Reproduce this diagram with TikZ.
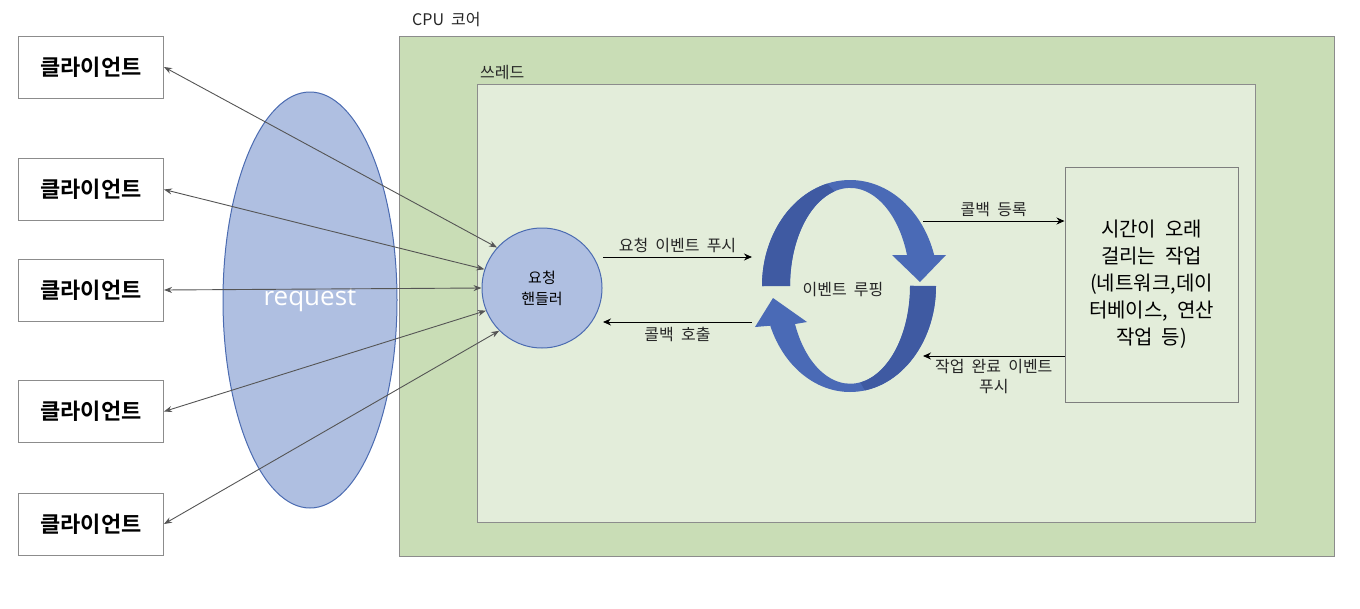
\documentclass[tikz,border=0pt]{standalone}
\usepackage{fontspec}
\setmainfont{Noto Sans CJK KR}[BoldFont={Noto Sans CJK KR Bold}, WordSpace=2]
\newfontfamily\reqfont{Open Sans}
\usetikzlibrary{arrows.meta,shapes.geometric,calc}
\definecolor{cpugreen}{HTML}{C9DDB6}
\definecolor{thrgreen}{HTML}{E3EDDA}
\definecolor{boxgray}{HTML}{8C8C8C}
\definecolor{reqfill}{HTML}{AFBFE1}
\definecolor{reqedge}{HTML}{4B6BB1}
\definecolor{loopblue}{HTML}{4A6AB6}
\definecolor{loopdark}{HTML}{3F5AA2}
\definecolor{conngray}{HTML}{555555}
\begin{document}
\begin{tikzpicture}[x=1pt,y=-1pt,
  client/.style={draw=boxgray, fill=white, line width=1pt, minimum width=145pt, minimum height=62pt, inner sep=0pt, font=\fontsize{22}{26}\selectfont\bfseries},
  panel/.style={draw=boxgray, line width=1pt, inner sep=0pt},
  lbl/.style={font=\fontsize{16}{20}\selectfont, text=black!85},
  carrow/.style={draw=conngray, line width=0.9pt, {Stealth[length=8pt,width=6pt]}-{Stealth[length=8pt,width=6pt]}},
  barrow/.style={draw=black, line width=1pt, -{Stealth[length=8pt,width=7pt]}}
]
\useasboundingbox (0,0) rectangle (1360,608);

% CPU core and thread panels
\node[panel, fill=cpugreen, minimum width=935pt, minimum height=520pt] (cpu) at (866.5,296) {};
\node[lbl, anchor=west, inner sep=0pt] (cpulbl) at (412,20) {CPU 코어};
\node[panel, fill=thrgreen, minimum width=778pt, minimum height=438pt] (thread) at (866,303) {};
\node[lbl, anchor=west, inner sep=0pt] (thrlbl) at (480,73) {쓰레드};

% request ellipse
\node[ellipse, draw=reqedge, line width=1pt, fill=reqfill, minimum width=174pt, minimum height=416pt, inner sep=0pt,
      text=white, font=\reqfont\fontsize{26}{30}\selectfont] (req) at (310,300) {request};

% clients
\node[client] (c1) at (91,67) {클라이언트};
\node[client] (c2) at (91,189.5) {클라이언트};
\node[client] (c3) at (91,290) {클라이언트};
\node[client] (c4) at (91,411.5) {클라이언트};
\node[client] (c5) at (91,524) {클라이언트};

% request handler
\node[circle, draw=reqedge, line width=1pt, fill=reqfill, minimum size=120pt, inner sep=0pt, align=center,
      font=\fontsize{15}{21}\selectfont] (h) at (542,288) {요청\\핸들러};

% client connectors
\draw[carrow] (c1.east) -- (h.138);
\draw[carrow] (c2.east) -- (h.162);
\draw[carrow] (c3.east) -- (h.180);
\draw[carrow] (c4.east) -- (h.202);
\draw[carrow] (c5.east) -- (h.225);

% long task box
\node[panel, draw=boxgray!90!black, fill=thrgreen, minimum width=173pt, minimum height=235pt, align=center,
      font=\fontsize{20}{27}\selectfont] (task) at (1151.5,284.5)
      {시간이 오래\\걸리는 작업\\(네트워크,데이\\터베이스, 연산\\작업 등)};

% event loop circular arrows
\fill[loopblue] (762,286) arc[start angle=180, end angle=343, x radius=88, y radius=106]
   -- (946,255) -- (920,282) -- (892,255) -- (907,255)
   arc[start angle=341.6, end angle=180, x radius=60, y radius=98] -- cycle;
\fill[loopdark] (762,286) arc[start angle=180, end angle=255, x radius=88, y radius=106]
   -- ($(850,286)+(255:60 and 98)$)
   arc[start angle=255, end angle=180, x radius=60, y radius=98] -- cycle;
\fill[loopblue] (936,286) arc[start angle=0, end angle=158, x radius=86, y radius=106]
   -- (755,327) -- (773,298) -- (807,322) -- (795,324)
   arc[start angle=157, end angle=0, x radius=60, y radius=98] -- cycle;
\fill[loopdark] (936,286) arc[start angle=0, end angle=80, x radius=86, y radius=106]
   -- ($(850,286)+(80:60 and 98)$)
   arc[start angle=80, end angle=0, x radius=60, y radius=98] -- cycle;
\node[lbl] (loop) at (843,290) {이벤트 루핑};

% inner connectors
\coordinate (p1s) at (603,257);
\coordinate (p1e) at (752,257);
\draw[barrow] (p1s) -- node[lbl, above, inner sep=4pt] (p1l) {요청 이벤트 푸시} (p1e);
\coordinate (p2s) at (752,322);
\coordinate (p2e) at (603,322);
\draw[barrow] (p2s) -- node[lbl, below, inner sep=5pt] (p2l) {콜백 호출} (p2e);
\coordinate (p3s) at (923,221);
\draw[barrow] (p3s) -- node[lbl, above, inner sep=4pt] (p3l) {콜백 등록} (p3s -| task.west);
\coordinate (p4e) at (923,356);
\draw[barrow] (p4e -| task.west) -- node[lbl, below, inner sep=3pt, align=center] (p4l) {작업 완료 이벤트\\푸시} (p4e);
\end{tikzpicture}
\end{document}
